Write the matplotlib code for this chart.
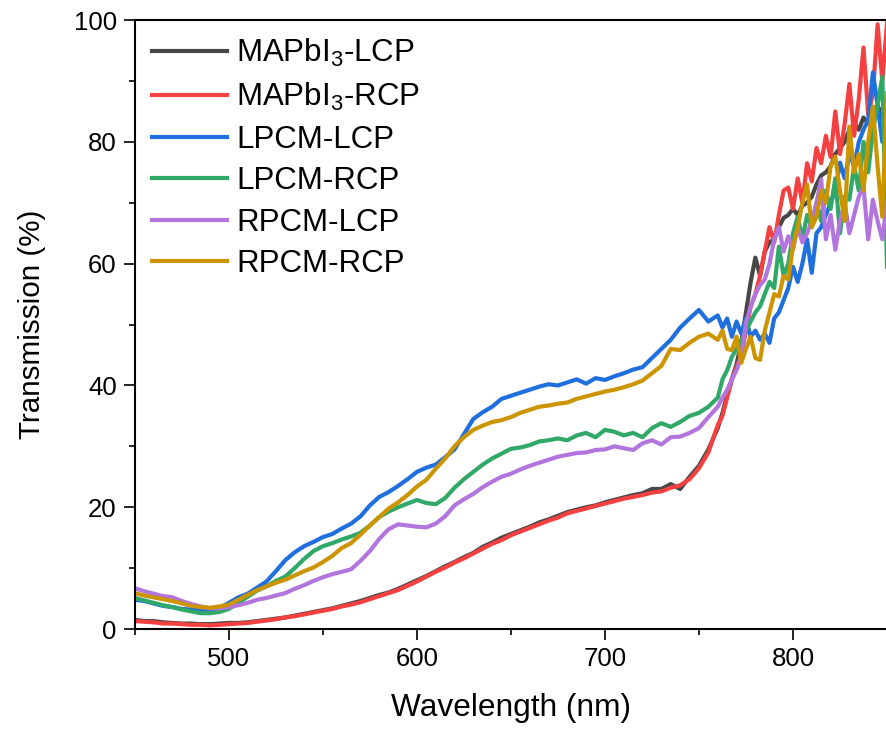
import matplotlib
matplotlib.use("Agg")
import matplotlib.pyplot as plt
from matplotlib.ticker import MultipleLocator

plt.rcParams['font.family'] = ['Liberation Sans', 'DejaVu Sans']
plt.rcParams['mathtext.fontset'] = 'custom'
plt.rcParams['mathtext.rm'] = 'Liberation Sans'
plt.rcParams['mathtext.it'] = 'Liberation Sans'

# wavelength grid (nm)
wl_low = [450 + 5 * i for i in range(63)]            # 450 .. 760
wl_high = [762.5 + 2.5 * i for i in range(36)]       # 762.5 .. 850
wavelength = wl_low + wl_high

labels = ['MAPbI$_3$-LCP', 'MAPbI$_3$-RCP', 'LPCM-LCP', 'LPCM-RCP', 'RPCM-LCP', 'RPCM-RCP']
colors = ['#474747', '#f44040', '#1f6fdf', '#30a868', '#b275de', '#cc9500']

mapbi3_lcp = [1.5, 1.3, 1.3, 1.1, 1.0, 0.9, 0.9, 0.8, 0.8, 0.9, 1.0, 1.0, 1.1, 1.3, 1.5, 1.7,
              1.9, 2.2, 2.5, 2.8, 3.1, 3.4, 3.8, 4.2, 4.6, 5.1, 5.6, 6.0, 6.6, 7.3, 8.0, 8.7,
              9.5, 10.3, 11.0, 11.8, 12.5, 13.5, 14.2, 15.0, 15.6, 16.2, 16.8, 17.5, 18.0, 18.6,
              19.2, 19.6, 20.0, 20.3, 20.8, 21.2, 21.6, 22.0, 22.3, 23.0, 23.0, 23.8, 23.0, 25.0,
              26.8, 29.5, 33.0,
              35.5, 38.5, 41, 43.5, 47, 52, 57, 61, 58, 62, 63.5, 64, 66, 67.5, 68, 69, 68, 69.5,
              70, 71, 73, 74.5, 75, 76, 78, 79, 80, 82, 83, 82, 84, 83, 85, 86, 84, 87]

mapbi3_rcp = [1.3, 1.2, 1.1, 0.9, 0.9, 0.8, 0.7, 0.7, 0.6, 0.7, 0.8, 0.9, 1.0, 1.2, 1.4, 1.6,
              1.9, 2.1, 2.4, 2.7, 3.0, 3.3, 3.7, 4.0, 4.4, 4.9, 5.4, 5.9, 6.4, 7.1, 7.8, 8.6,
              9.4, 10.1, 10.9, 11.6, 12.4, 13.2, 14.0, 14.6, 15.4, 16.0, 16.6, 17.2, 17.8, 18.3,
              19.0, 19.4, 19.8, 20.2, 20.6, 21.0, 21.4, 21.7, 22.0, 22.4, 22.6, 23.2, 23.6, 24.6,
              26.4, 29.0, 33.5,
              35, 38, 41, 43, 45, 49, 53, 55, 58, 62, 66, 63.5, 68, 72, 72.5, 69, 74, 70, 76.5,
              73.5, 79, 76.5, 81, 77.5, 85, 78, 83, 89.5, 81, 87, 95.5, 84.5, 88, 99.3, 90, 99.5]

lpcm_lcp = [4.8, 4.6, 4.2, 3.8, 3.6, 3.3, 3.2, 3.1, 2.9, 3.4, 4.3, 5.2, 5.8, 6.8, 7.8, 9.5,
            11.3, 12.6, 13.6, 14.3, 15.1, 15.6, 16.5, 17.3, 18.5, 20.3, 21.7, 22.5, 23.5, 24.6,
            25.8, 26.5, 27.0, 28.2, 29.5, 32.0, 34.5, 35.6, 36.5, 37.8, 38.3, 38.8, 39.3, 39.8,
            40.2, 40.0, 40.5, 41.0, 40.3, 41.2, 40.9, 41.5, 42.0, 42.6, 43.0, 44.5, 46.0, 47.5,
            49.5, 51.0, 52.4, 50.5, 51.5,
            49.5, 51, 48, 50.5, 48.5, 51, 48, 49, 47.5, 48.5, 47, 51, 52, 54, 56, 59.5, 57, 60,
            64, 58.5, 65, 66, 68, 70, 72, 76.6, 74, 78, 76, 80, 82, 83.6, 91.4, 86, 80, 84]

lpcm_rcp = [5.1, 4.7, 4.3, 3.9, 3.6, 3.2, 2.9, 2.6, 2.6, 2.8, 3.3, 4.3, 5.3, 6.3, 7.0, 7.9,
            8.6, 10.0, 11.5, 12.8, 13.6, 14.1, 14.7, 15.2, 15.8, 17.0, 18.4, 19.3, 20.0, 20.6,
            21.2, 20.7, 20.5, 21.5, 23.2, 24.6, 25.8, 27.0, 28.0, 28.8, 29.6, 29.8, 30.2, 30.8,
            31.0, 31.3, 31.0, 31.8, 32.2, 31.5, 32.7, 32.4, 31.8, 32.2, 31.5, 33.0, 33.8, 33.2,
            34.0, 35.0, 35.5, 36.5, 38.0,
            41, 42.5, 44.7, 46, 47.5, 49, 50.5, 52, 53, 55, 57, 56, 62.8, 58, 60, 65, 67.7, 64,
            68, 66, 70, 67, 72, 69, 74, 65, 71, 70.5, 76, 72, 80, 75, 82, 86, 90.7, 59.5]

rpcm_lcp = [6.7, 6.2, 5.8, 5.4, 5.2, 4.6, 4.1, 3.7, 3.4, 3.4, 3.6, 3.9, 4.3, 4.8, 5.1, 5.5,
            5.9, 6.6, 7.2, 7.9, 8.5, 9.0, 9.4, 9.8, 11.2, 12.8, 14.8, 16.4, 17.2, 17.0, 16.8,
            16.7, 17.3, 18.5, 20.3, 21.3, 22.2, 23.3, 24.2, 25.0, 25.5, 26.2, 26.8, 27.3, 27.8,
            28.3, 28.6, 28.9, 29.0, 29.4, 29.5, 30.0, 29.7, 29.4, 30.5, 31.0, 30.3, 31.5, 31.6,
            32.2, 33.0, 34.8, 36.5,
            38, 39.3, 41, 42.5, 44.7, 50.3, 53, 55, 56.5, 57.4, 60, 64, 66, 62, 64.5, 62.3, 66,
            63.5, 65, 67, 70, 73.8, 64, 68, 62.3, 67, 70, 65, 68, 71, 72.6, 64, 70.5, 67, 64, 70]

rpcm_rcp = [5.9, 5.5, 5.2, 4.9, 4.6, 4.2, 3.8, 3.6, 3.5, 3.7, 4.0, 4.8, 5.6, 6.4, 7.0, 7.6,
            8.1, 8.8, 9.5, 10.1, 11.0, 12.0, 13.3, 14.1, 15.5, 17.0, 18.4, 19.8, 20.8, 22.0,
            23.4, 24.5, 26.3, 28.0, 30.0, 31.5, 32.7, 33.4, 34.0, 34.3, 34.8, 35.5, 36.0, 36.5,
            36.7, 37.0, 37.2, 37.8, 38.2, 38.6, 39.0, 39.3, 39.7, 40.2, 40.8, 42.0, 43.2, 46.0,
            45.8, 47.0, 48.0, 48.5, 47.5,
            49, 46, 45.8, 48, 43.7, 46, 48, 44.5, 44.2, 49, 52, 55, 54.6, 58, 57.4, 62.8, 66, 70,
            73, 66, 67.7, 72, 70, 76, 77.6, 72, 67, 82.5, 75, 78, 72, 80, 85.8, 76, 67.7, 88]

series = [mapbi3_lcp, mapbi3_rcp, lpcm_lcp, lpcm_rcp, rpcm_lcp, rpcm_rcp]

fig = plt.figure(figsize=(8.87, 7.31), dpi=100)
ax = fig.add_axes([0.152, 0.1395, 0.848, 0.833])

for ys, lab, col in zip(series, labels, colors):
    ax.plot(wavelength, ys, color=col, lw=3.0, label=lab, solid_joinstyle='round')

ax.set_xlim(450, 850)
ax.set_ylim(0, 100)
ax.xaxis.set_major_locator(MultipleLocator(100))
ax.xaxis.set_minor_locator(MultipleLocator(50))
ax.yaxis.set_major_locator(MultipleLocator(20))
ax.yaxis.set_minor_locator(MultipleLocator(10))
ax.tick_params(which='major', direction='out', length=8, width=1.2, labelsize=18.5, pad=5)
ax.tick_params(which='minor', direction='out', length=4, width=1.2)
for s in ['left', 'bottom', 'top']:
    ax.spines[s].set_linewidth(1.5)
ax.spines['right'].set_visible(False)

ax.set_xlabel('Wavelength (nm)', fontsize=22.8, labelpad=15.5)
ax.set_ylabel('Transmission (%)', fontsize=21.3, labelpad=20)

leg = ax.legend(loc='upper left', frameon=False, fontsize=22.5, handlelength=2.4,
                handletextpad=0.3, labelspacing=0.37, borderaxespad=0.25, borderpad=0.3)
for h in leg.get_lines():
    h.set_linewidth(3.0)

fig.savefig('out.png', dpi=100)
